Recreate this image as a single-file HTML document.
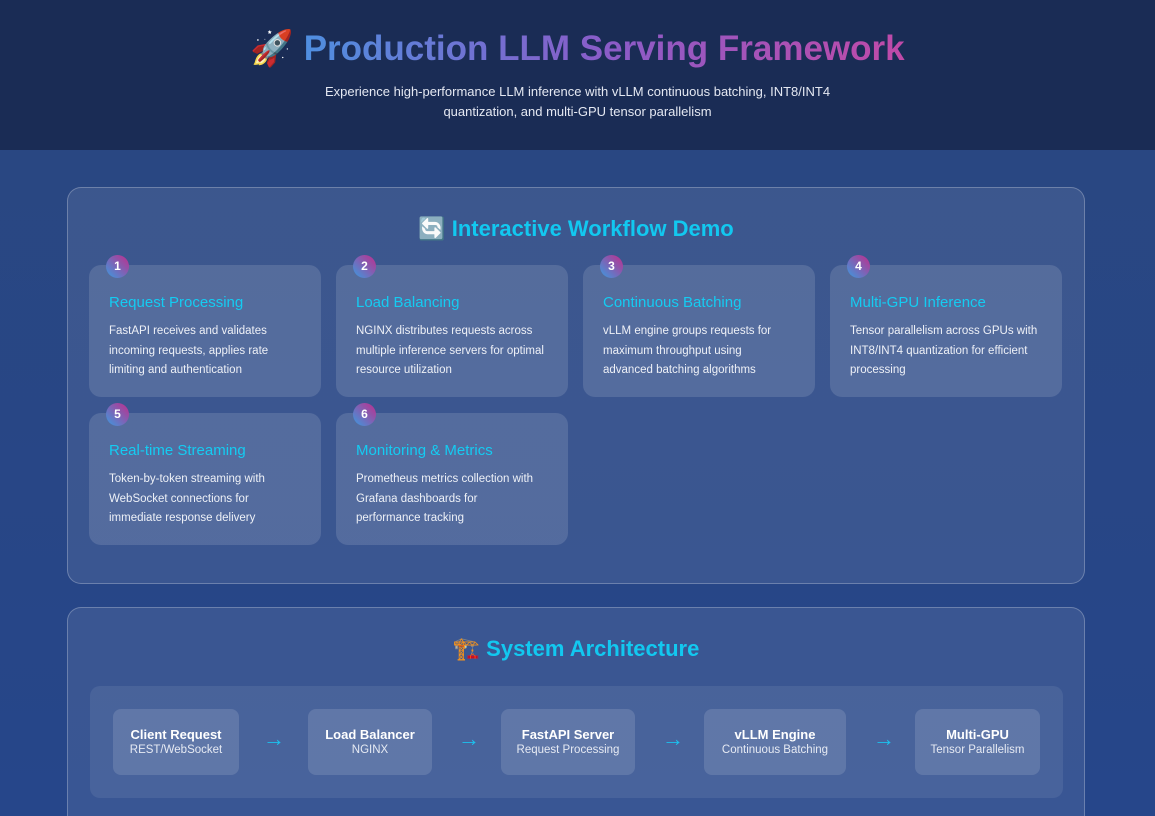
<!DOCTYPE html>
<html style="overflow:hidden;width:1155px;height:816px"><head><meta charset="utf-8"><style>
*{margin:0;padding:0;box-sizing:border-box}
body{width:1155px;height:816px;overflow:hidden;font-family:"Liberation Sans","DejaVu Sans",sans-serif;background:linear-gradient(180deg,#2a4780 0%,#26468a 100%);position:relative;color:#fff}
.hdr{position:absolute;left:0;top:0;width:1155px;height:150px;background:#1a2c55}
.h1{position:absolute;top:28px;width:100%;text-align:center;font-size:35px;font-weight:bold}
.h1 span.t{background:linear-gradient(90deg,#4f8fe0,#8a5cc8,#c04aa8);-webkit-background-clip:text;color:transparent}
.sub{position:absolute;top:82px;width:100%;text-align:center;font-size:13px;line-height:20px;color:#e4e8f2}
.panel{position:absolute;left:67px;width:1018px;border:1px solid rgba(255,255,255,0.25);border-radius:14px;background:rgba(255,255,255,0.09)}
.ptitle{position:absolute;width:100%;text-align:center;font-size:22px;font-weight:bold;color:#12c8f0}
.card{position:absolute;width:232px;height:132px;border-radius:12px;background:rgba(255,255,255,0.13)}
.badge{position:absolute;left:17px;top:-10px;width:23px;height:23px;border-radius:50%;background:linear-gradient(45deg,#3a9be0,#c02c8c);font-size:12px;font-weight:bold;text-align:center;line-height:23px}
.ct{position:absolute;left:20px;top:29px;font-size:15px;color:#14ccf2}
.cd{position:absolute;left:20px;top:57px;width:188px;font-size:11.5px;line-height:19.5px;color:#eef1f7}
.inner{position:absolute;left:22px;top:78px;width:973px;height:112px;border-radius:10px;background:rgba(255,255,255,0.08)}
.node{position:absolute;top:23px;height:66px;border-radius:8px;background:rgba(255,255,255,0.13);text-align:center}
.node b{display:block;margin-top:18px;font-size:13px}
.node i{display:block;font-style:normal;font-size:11.5px;color:#e6eaf3;margin-top:2px}
.arr{position:absolute;top:40px;color:#1cc0ee;font-size:22px}
</style></head><body>
<div class="hdr">
<div class="h1"><span style="color:#4f8fe0">🚀</span> <span class="t">Production LLM Serving Framework</span></div>
<div class="sub">Experience high-performance LLM inference with vLLM continuous batching, INT8/INT4<br>quantization, and multi-GPU tensor parallelism</div>
</div>
<div class="panel" style="top:187px;height:397px">
<div class="ptitle" style="top:28px">🔄 Interactive Workflow Demo</div>
</div>
<div class="card" style="left:89px;top:265px"><div class="badge">1</div><div class="ct">Request Processing</div><div class="cd">FastAPI receives and validates incoming requests, applies rate limiting and authentication</div></div>
<div class="card" style="left:336px;top:265px"><div class="badge">2</div><div class="ct">Load Balancing</div><div class="cd">NGINX distributes requests across multiple inference servers for optimal resource utilization</div></div>
<div class="card" style="left:583px;top:265px"><div class="badge">3</div><div class="ct">Continuous Batching</div><div class="cd">vLLM engine groups requests for maximum throughput using advanced batching algorithms</div></div>
<div class="card" style="left:830px;top:265px"><div class="badge">4</div><div class="ct">Multi-GPU Inference</div><div class="cd">Tensor parallelism across GPUs with INT8/INT4 quantization for efficient processing</div></div>
<div class="card" style="left:89px;top:413px"><div class="badge">5</div><div class="ct">Real-time Streaming</div><div class="cd">Token-by-token streaming with WebSocket connections for immediate response delivery</div></div>
<div class="card" style="left:336px;top:413px"><div class="badge">6</div><div class="ct">Monitoring &amp; Metrics</div><div class="cd">Prometheus metrics collection with Grafana dashboards for performance tracking</div></div>
<div class="panel" style="top:607px;height:230px">
<div class="ptitle" style="top:28px">🏗️ System Architecture</div>
<div class="inner">
<div class="node" style="left:23px;width:126px"><b>Client Request</b><i>REST/WebSocket</i></div>
<div class="arr" style="left:173px">→</div>
<div class="node" style="left:218px;width:124px"><b>Load Balancer</b><i>NGINX</i></div>
<div class="arr" style="left:368px">→</div>
<div class="node" style="left:411px;width:134px"><b>FastAPI Server</b><i>Request Processing</i></div>
<div class="arr" style="left:572px">→</div>
<div class="node" style="left:614px;width:142px"><b>vLLM Engine</b><i>Continuous Batching</i></div>
<div class="arr" style="left:783px">→</div>
<div class="node" style="left:825px;width:125px"><b>Multi-GPU</b><i>Tensor Parallelism</i></div>
</div>
</div>
</body></html>
